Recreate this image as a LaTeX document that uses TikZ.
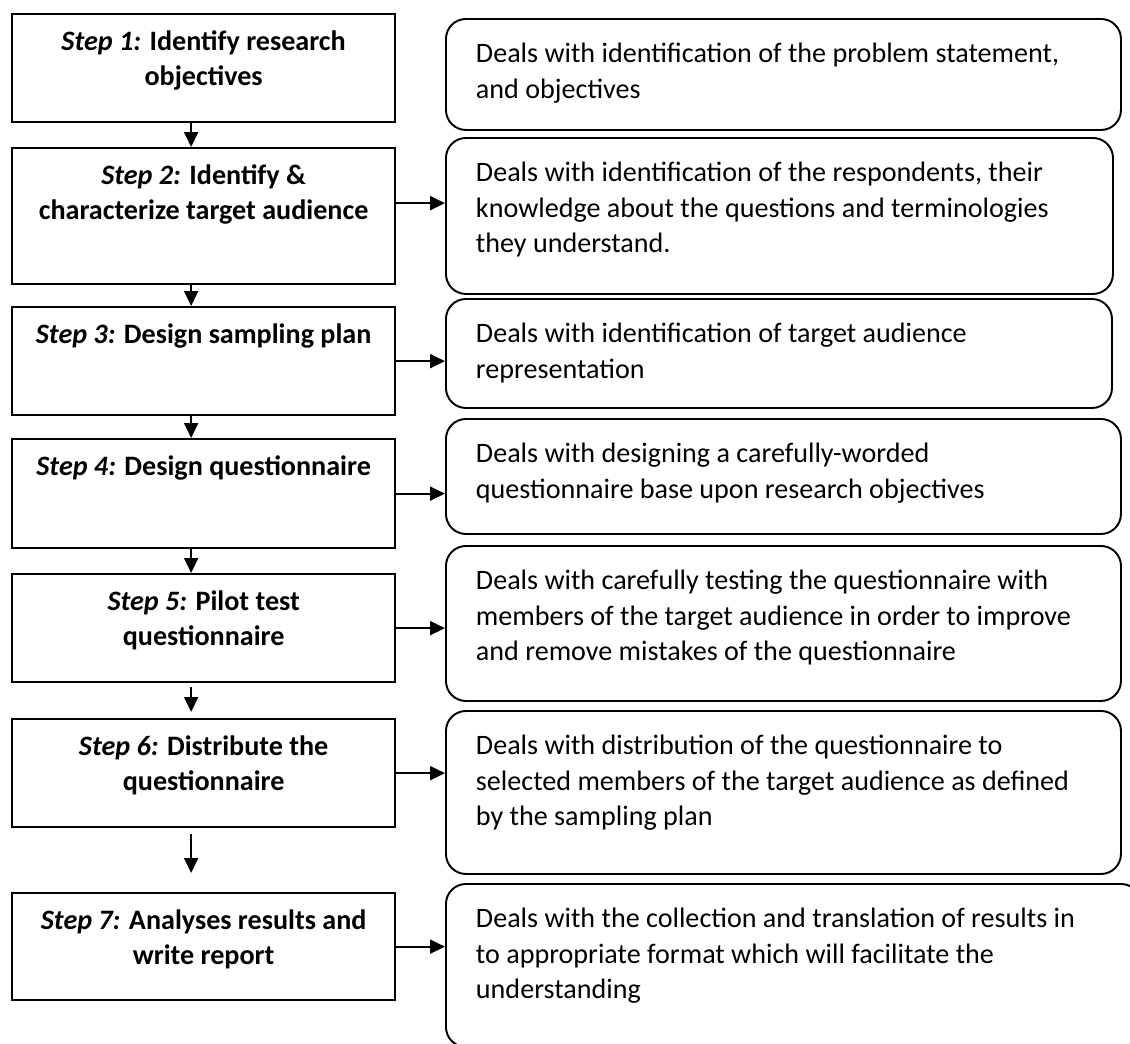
\documentclass[tikz,border=0pt]{standalone}
\usepackage{fontspec}
\setmainfont{Carlito}
\usetikzlibrary{arrows.meta,positioning}

\newcommand{\steptext}[2]{\parbox[t][#1][t]{7.66cm}{\centering\bfseries\rule{0pt}{0.72cm}#2}}
\newcommand{\notetext}[3]{\parbox[t][#1][t]{#2}{\raggedright\rule{0pt}{0.88cm}#3}}

\begin{document}
\begin{tikzpicture}[>={Triangle[length=0.3cm,width=0.28cm]},
  every node/.style={font=\fontsize{16}{20}\selectfont},
  stepbox/.style={draw, line width=1.3pt, anchor=north west, inner sep=0pt, minimum width=7.66cm},
  notebox/.style={draw, line width=1.1pt, rounded corners=0.4cm, anchor=north west, inner xsep=0.6cm, inner ysep=0pt},
  flow/.style={->, line width=1.1pt}]
  \useasboundingbox (0,0) rectangle (22.6,-20.86);
  \clip (0,0) rectangle (22.6,-20.86);

  % Steps
  \node[stepbox] (s1) at (0.22,-0.26) {\steptext{2.16cm}{\textit{Step 1:} Identify research\\ objectives}};
  \node[stepbox] (s2) at (0.22,-2.94) {\steptext{2.72cm}{\textit{Step 2:} Identify \&\\ characterize target audience}};
  \node[stepbox] (s3) at (0.22,-6.12) {\steptext{2.16cm}{\textit{Step 3:} Design sampling plan}};
  \node[stepbox] (s4) at (0.22,-8.76) {\steptext{2.18cm}{\textit{Step 4:} Design questionnaire}};
  \node[stepbox] (s5) at (0.22,-11.46) {\steptext{2.16cm}{\textit{Step 5:} Pilot test\\ questionnaire}};
  \node[stepbox] (s6) at (0.22,-14.36) {\steptext{2.16cm}{\textit{Step 6:} Distribute the\\ questionnaire}};
  \node[stepbox] (s7) at (0.22,-17.84) {\steptext{2.14cm}{\textit{Step 7:} Analyses results and\\ write report}};

  % Notes
  \node[notebox] (n1) at (8.9,-0.36) {\notetext{2.22cm}{12.3cm}{Deals with identification of the problem statement,\\ and objectives}};
  \node[notebox] (n2) at (8.9,-2.74) {\notetext{3.12cm}{12.14cm}{Deals with identification of the respondents, their\\ knowledge about the questions and terminologies\\ they understand.}};
  \node[notebox] (n3) at (8.9,-5.96) {\notetext{2.18cm}{12.12cm}{Deals with identification of target audience\\ representation}};
  \node[notebox] (n4) at (8.9,-8.36) {\notetext{2.30cm}{12.3cm}{Deals with designing a carefully-worded\\ questionnaire base upon research objectives}};
  \node[notebox] (n5) at (8.9,-10.90) {\notetext{3.10cm}{12.3cm}{Deals with carefully testing the questionnaire with\\ members of the target audience in order to improve\\ and remove mistakes of the questionnaire}};
  \node[notebox] (n6) at (8.9,-14.20) {\notetext{3.26cm}{12.3cm}{Deals with distribution of the questionnaire to\\ selected members of the target audience as defined\\ by the sampling plan}};
  \node[notebox] (n7) at (8.9,-17.66) {\notetext{3.26cm}{12.7cm}{Deals with the collection and translation of results in\\ to appropriate format which will facilitate the\\ understanding}};

  % Down arrows
  \draw[flow] ([xshift=-0.25cm]s1.south) -- ([xshift=-0.25cm]s2.north);
  \draw[flow] ([xshift=-0.25cm]s2.south) -- ([xshift=-0.25cm]s3.north);
  \draw[flow] ([xshift=-0.25cm]s3.south) -- ([xshift=-0.25cm]s4.north);
  \draw[flow] ([xshift=-0.25cm]s4.south) -- ([xshift=-0.25cm]s5.north);
  \draw[flow, shorten <=0.08cm, shorten >=0.12cm] ([xshift=-0.25cm]s5.south) -- ([xshift=-0.25cm]s6.north);
  \draw[flow, shorten <=0.12cm, shorten >=0.38cm] ([xshift=-0.25cm]s6.south) -- ([xshift=-0.25cm]s7.north);

  % Side arrows
  \draw[flow] ([yshift=0.26cm]s2.east) -- ([yshift=0.26cm]s2.east -| n2.west);
  \foreach \i in {3,...,7}
    \draw[flow] (s\i.east) -- (s\i.east -| n\i.west);
\end{tikzpicture}
\end{document}
